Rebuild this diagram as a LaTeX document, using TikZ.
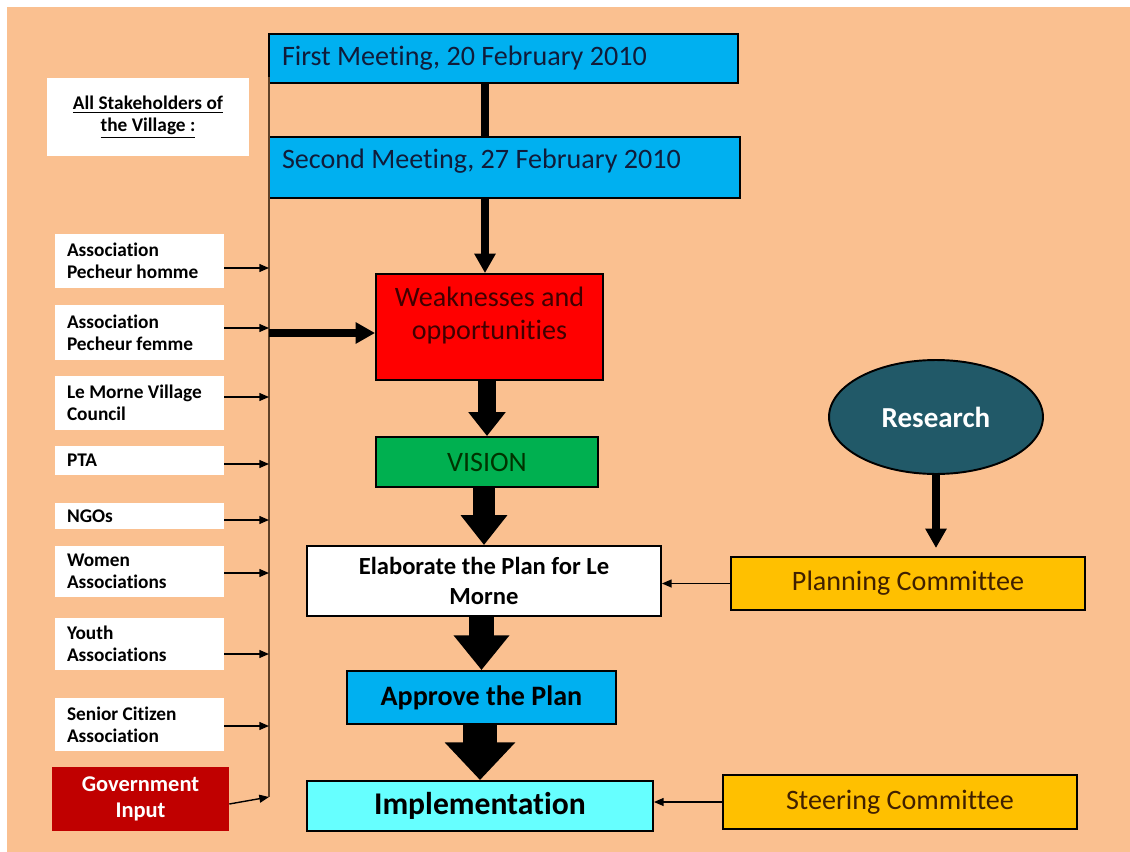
\documentclass[tikz,border=0pt]{standalone}
\usepackage{fontspec}
\setmainfont{Carlito}[Ligatures=NoCommon]
\usetikzlibrary{arrows.meta,positioning,shapes.geometric}

\definecolor{peach}{RGB}{250,192,144}
\definecolor{meetblue}{RGB}{0,176,240}
\definecolor{weakred}{RGB}{255,0,0}
\definecolor{visgreen}{RGB}{0,176,80}
\definecolor{implcyan}{RGB}{102,255,255}
\definecolor{comorange}{RGB}{255,192,0}
\definecolor{govred}{RGB}{192,0,0}
\definecolor{resteal}{RGB}{33,89,104}
\definecolor{navytext}{RGB}{16,28,58}
\definecolor{busbrown}{RGB}{95,65,40}

\begin{document}
\begin{tikzpicture}[x=0.02cm,y=-0.02cm,>=Latex,
  box/.style={draw=black,line width=1.1pt,inner sep=0pt,align=center},
  meet/.style={box,fill=meetblue,text=navytext,align=left,text width=8.86cm,inner xsep=0.26cm,
    execute at begin node={\spaceskip=0pt\xspaceskip=0pt},font=\fontsize{16}{19}\selectfont},
  stake/.style={fill=white,inner sep=0pt,inner xsep=0.24cm,text width=2.9cm,align=left,
    execute at begin node={\spaceskip=0pt\xspaceskip=0pt},font=\bfseries\fontsize{11}{12.6}\selectfont},
  feed/.style={line width=.8pt,-{Triangle[length=5.5pt,width=4.5pt]}},
  fat/.style={line width=4.5pt,-{Triangle[length=11pt,width=11.5pt]}},
]
  \useasboundingbox (0,0) rectangle (1130,852);
  \fill[white] (0,0) rectangle (1130,852);
  \fill[peach] (7,7) rectangle (1130,852);

  % meetings and the main steps
  \node[meet,minimum height=0.98cm] (first) at (503.5,58.5) {First Meeting, 20 February 2010};
  \node[meet,minimum height=1.22cm,text width=8.9cm,text depth=0.36cm] (second) at (504.5,167.5) {Second Meeting, 27 February 2010};
  \node[box,fill=weakred,text=black!75!red,minimum width=4.54cm,minimum height=2.12cm,text depth=0.56cm,font=\fontsize{16}{18.7}\selectfont] (weak) at (489.5,327) {Weaknesses and\\opportunities};
  \node[box,fill=visgreen,text=black!80!green,minimum width=4.44cm,minimum height=1cm,font=\fontsize{16}{18}\selectfont] (vision) at (487,462) {VISION};
  \node[box,fill=white,minimum width=7.08cm,minimum height=1.4cm,font=\bfseries\fontsize{14}{17}\selectfont] (elab) at (484,581) {Elaborate the Plan for Le\\Morne};
  \node[box,fill=meetblue,minimum width=5.38cm,minimum height=1.06cm,font=\bfseries\fontsize{16}{18}\selectfont] (approve) at (481.5,697.5) {Approve the Plan};
  \node[box,fill=implcyan,minimum width=6.92cm,minimum height=1cm,font=\bfseries\fontsize{18}{21}\selectfont] (impl) at (480,806) {Implementation};

  % research side
  \node[box,ellipse,fill=resteal,text=white,minimum width=4.28cm,minimum height=2.28cm,font=\bfseries\fontsize{16.5}{19}\selectfont] (research) at (936,417) {Research};
  \node[box,fill=comorange,text=black!75!orange,minimum width=7.08cm,minimum height=1.06cm,font=\fontsize{16}{19}\selectfont] (plan) at (908,583.5) {Planning Committee};
  \node[box,fill=comorange,text=black!75!orange,minimum width=7.08cm,minimum height=1.08cm,font=\fontsize{16}{19}\selectfont] (steer) at (900,802) {Steering Committee};

  % stakeholders
  \node[fill=white,inner sep=0pt,minimum width=4.04cm,minimum height=1.56cm,align=center,font=\bfseries\fontsize{11}{12.6}\selectfont] (title) at (148,117) {\underline{All Stakeholders of}\\\underline{the Village :}};
  \coordinate (bustop) at (269,77);
  \coordinate (busbot) at (269,797);
  \draw[busbrown,line width=1pt] (bustop) -- (busbot);
  \foreach \n/\yc/\h/\ya/\txt in {
    1/261/54/268/{Association\\Pecheur homme},
    2/332.5/55/328/{Association\\Pecheur femme},
    3/403/54/397/{Le Morne Village\\Council},
    4/460.5/29/464/{PTA},
    5/516/26/520/{NGOs},
    6/571.5/51/573/{Women\\Associations},
    7/644/52/654/{Youth\\Associations},
    8/724.5/53/726/{Senior Citizen\\Association}}{
    \node[stake,minimum height=\h*0.02cm] (s\n) at (139.5,\yc) {\txt};
    \draw[feed] (s\n.east |- 0,\ya) -- (bustop |- 0,\ya);
  }
  \node[fill=govred,text=white,inner sep=0pt,minimum width=3.54cm,minimum height=1.28cm,align=center,font=\bfseries\fontsize{12.8}{14.7}\selectfont] (gov) at (140.5,799) {Government\\Input};
  \draw[feed] ([yshift=-0.1cm]gov.east) -- (busbot);

  % connectors
  \draw[line width=4.5pt] (first.south -| 485,0) -- (second.north -| 485,0);
  \draw[fat] (second.south -| 485,0) -- (weak.north -| 485,0);
  \draw[fat] ([yshift=-0.12cm]bustop |- weak.west) -- ([yshift=-0.12cm]weak.west);
  \draw[line width=10.8pt,-{Triangle[length=13.6pt,width=20.4pt]}] (vision.north |- weak.south) -- (vision.north);
  \draw[line width=13pt,-{Triangle[length=17pt,width=25.5pt]}] (elab.north |- vision.south) -- (elab.north);
  \draw[line width=14.2pt,-{Triangle[length=19.8pt,width=30.6pt]}] (approve.north |- elab.south) -- (approve.north);
  \draw[line width=19.8pt,-{Triangle[length=21.5pt,width=39pt]}] (impl.north |- approve.south) -- (impl.north);
  \coordinate (restip) at (936,548);
  \draw[fat] (research.south) -- (restip);
  \draw[feed] (plan.west) -- (plan.west -| elab.east);
  \draw[feed] (steer.west) -- (steer.west -| impl.east);
\end{tikzpicture}
\end{document}
